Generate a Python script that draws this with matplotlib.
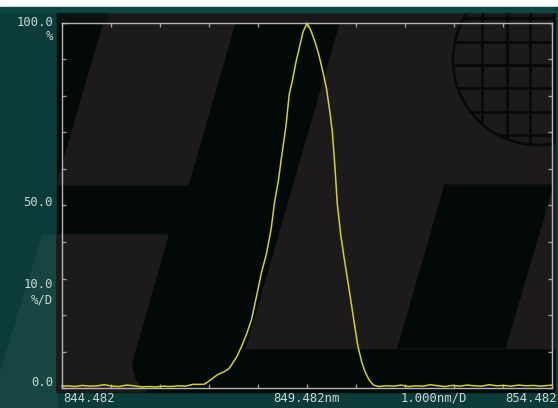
import numpy as np
import matplotlib
matplotlib.use('Agg')
import matplotlib.pyplot as plt
from matplotlib.patches import Polygon, Rectangle, Circle

# 波长 (nm) 和 光功率 (%)
wavelength = [844.482, 844.60, 844.75, 844.90, 845.05, 845.20, 845.35, 845.50, 845.65, 845.80,
              845.95, 846.10, 846.25, 846.40, 846.55, 846.70, 846.85, 847.00, 847.15, 847.30,
              847.38, 847.45, 847.55, 847.65, 847.78, 847.88, 847.95, 848.05, 848.15, 848.25,
              848.35, 848.45, 848.55, 848.65, 848.75, 848.82, 848.90, 848.97, 849.05, 849.12,
              849.18, 849.26, 849.33, 849.40, 849.482, 849.56, 849.64, 849.72, 849.80, 849.88,
              849.95, 850.00, 850.05, 850.10, 850.17, 850.23, 850.30, 850.37, 850.45, 850.52,
              850.60, 850.68, 850.76, 850.84, 850.95, 851.10, 851.25, 851.40, 851.55, 851.70,
              851.85, 852.00, 852.15, 852.30, 852.45, 852.60, 852.75, 852.90, 853.05, 853.20,
              853.35, 853.50, 853.65, 853.80, 853.95, 854.10, 854.25, 854.482]
power = [0.5, 0.6, 0.4, 0.7, 0.5, 0.6, 0.9, 0.5, 0.4, 0.8,
         0.6, 0.3, 0.4, 0.3, 0.5, 0.4, 0.6, 0.5, 1.0, 1.0,
         1.0, 1.6, 2.6, 3.6, 4.4, 5.2, 6.5, 8.6, 11.5, 14.8,
         18.8, 25.0, 31.5, 36.5, 43.5, 51.0, 57.0, 64.0, 71.5, 80.5,
         84.0, 89.5, 93.5, 97.5, 100.0, 98.0, 95.0, 91.5, 87.0, 82.0,
         75.5, 70.0, 61.0, 50.5, 42.0, 36.5, 30.5, 24.5, 17.5, 11.5,
         7.0, 4.0, 2.0, 0.8, 0.4, 0.6, 0.5, 0.8, 0.4, 0.6,
         0.5, 0.9, 0.6, 0.4, 0.7, 0.5, 0.8, 0.6, 0.5, 0.9,
         0.6, 0.7, 0.5, 0.8, 0.6, 0.7, 0.5, 0.8]

x_start, x_stop = 844.482, 854.482
y_labels = [("100.0", 22), ("%", 37), ("50.0", 202), ("10.0", 285), ("%/D", 300), ("0.0", 383)]

TEAL = '#0c3c39'
GRAY = '#1d1a1b'
BLACK = '#020907'
TXT = '#c9d6d3'

fig = plt.figure(figsize=(5.58, 4.08), dpi=100)

# 背景 (像素坐标)
bg = fig.add_axes([0, 0, 1, 1])
bg.set_xlim(0, 558)
bg.set_ylim(408, 0)
bg.axis('off')
bg.add_patch(Rectangle((0, 0), 558, 408, color=TEAL))
bg.add_patch(Polygon([(42, 235), (57, 235), (57, 408), (0, 408), (0, 372)], color='#164542'))
bg.add_patch(Rectangle((57, 12), 499, 380, color=BLACK))
# logo 灰色块
bg.add_patch(Polygon([(107, 12), (238, 12), (188, 185), (57, 185), (57, 184)], color=GRAY))
bg.add_patch(Polygon([(57, 235), (168, 235), (131, 365), (135, 380), (146, 392), (57, 392)], color=GRAY))
bg.add_patch(Polygon([(343, 12), (556, 12), (556, 348), (246, 348)], color=GRAY))
bg.add_patch(Polygon([(445, 185), (553, 185), (505, 348), (398, 348)], color=BLACK))
bg.add_patch(Rectangle((57, 12), 499, 11, color='#1c1718'))
bg.add_patch(Rectangle((57, 12), 50, 11, color='#0c1211'))
# 右上角圆形网格
circ = Circle((538, 60), 85, fill=False, ec='#060a09', lw=2)
bg.add_patch(circ)
inner = Circle((538, 60), 85, transform=bg.transData)
for gx in [482, 507, 530, 554]:
    ln, = bg.plot([gx, gx], [0, 160], color='#060a09', lw=2)
    ln.set_clip_path(inner)
for gy in [18, 42, 65, 88, 112, 135]:
    ln, = bg.plot([440, 560], [gy, gy], color='#060a09', lw=2)
    ln.set_clip_path(inner)
# 顶部与右侧边框覆盖
bg.add_patch(Rectangle((0, 0), 558, 7, color='white', zorder=5))
bg.add_patch(Rectangle((0, 7), 558, 5, color='#0f4541', zorder=5))
bg.add_patch(Rectangle((556, 7), 2, 401, color=TEAL, zorder=5))

# 标签
for txt, yy in y_labels:
    bg.text(53, yy, txt, color=TXT, fontsize=8.8, family='DejaVu Sans Mono',
            ha='right', va='center')
bg.text(63, 398, "844.482", color=TXT, fontsize=8.8, family='DejaVu Sans Mono', ha='left', va='center')
bg.text(306, 398, "849.482nm", color=TXT, fontsize=8.8, family='DejaVu Sans Mono', ha='center', va='center')
bg.text(434, 398, "1.000nm/D", color=TXT, fontsize=8.8, family='DejaVu Sans Mono', ha='center', va='center')
bg.text(557, 398, "854.482", color=TXT, fontsize=8.8, family='DejaVu Sans Mono', ha='right', va='center',
        zorder=6)

# 光谱曲线
ax = fig.add_axes([62 / 558, 20 / 408, 490 / 558, 365 / 408])
ax.set_facecolor('none')
ax.plot(wavelength, power, color='#d2d226', lw=1.1, clip_on=False)
ax.set_xlim(x_start, x_stop)
ax.set_ylim(0, 100)
for s in ax.spines.values():
    s.set_color('#b5b5b5')
    s.set_linewidth(1.0)
ax.set_xticks(np.linspace(x_start, x_stop, 11))
ax.set_yticks(np.linspace(0, 100, 11))
ax.tick_params(direction='in', length=3, color='#9a9a9a', width=1,
               top=True, right=True, labelbottom=False, labelleft=False)

plt.savefig('out.png', dpi=100)
